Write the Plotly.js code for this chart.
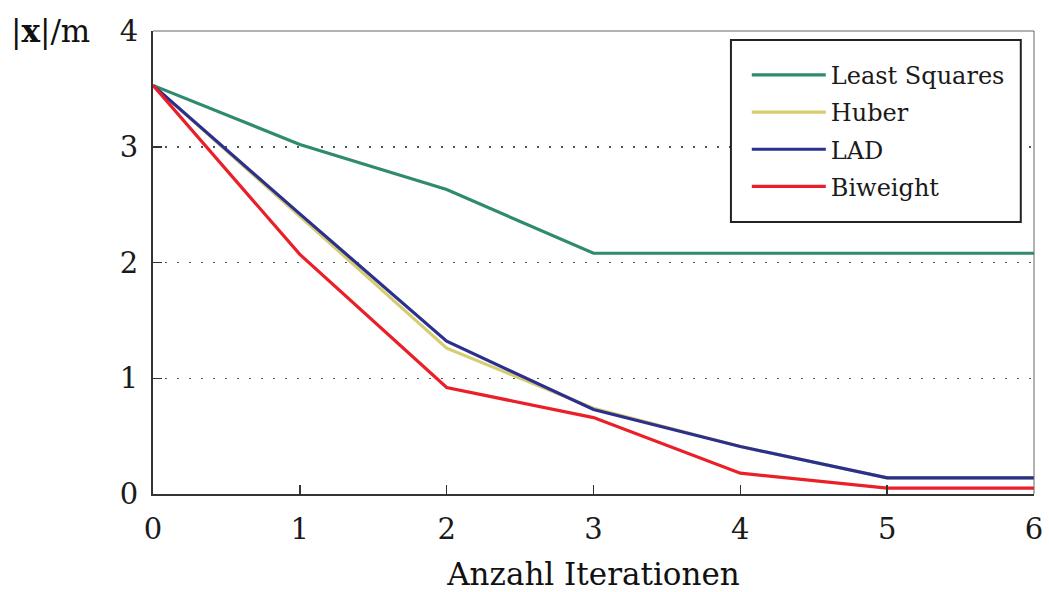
<!DOCTYPE html>
<html>
<head>
<meta charset="utf-8">
<script src="https://cdn.plot.ly/plotly-3.0.1.min.js"></script>
<style>
  html, body { margin: 0; padding: 0; background: #fff; }
  #chart { width: 1049px; height: 592px; }
</style>
</head>
<body>
<div id="chart"></div>
<script>
// Iteration index and |x| (in metres) for each estimator
const iterations = [0, 1, 2, 3, 4, 5, 6];
const leastSquares = [3.53, 3.02, 2.63, 2.08, 2.08, 2.08, 2.08];
const huber       = [3.53, 2.40, 1.26, 0.74, 0.41, 0.14, 0.14];
const lad         = [3.53, 2.42, 1.32, 0.73, 0.41, 0.14, 0.14];
const biweight    = [3.53, 2.07, 0.92, 0.66, 0.18, 0.05, 0.05];

const seriesNames = ['Least Squares', 'Huber', 'LAD', 'Biweight'];
const seriesValues = [leastSquares, huber, lad, biweight];
const seriesColors = ['#2f8a6f', '#d6cc70', '#2b2f8e', '#ea1f28'];

const xTicks = [0, 1, 2, 3, 4, 5, 6];
const yTicks = [0, 1, 2, 3, 4];

const serif = 'DejaVu Serif, Liberation Serif, serif';

const traces = seriesNames.map((name, i) => ({
  x: iterations,
  y: seriesValues[i],
  name: name,
  legendgroup: 'g' + i,
  type: 'scatter',
  mode: 'lines',
  line: { color: seriesColors[i], width: 3.2 }
}));

const layout = {
  width: 1049,
  height: 592,
  margin: { l: 153, r: 15, t: 31, b: 98 },
  paper_bgcolor: '#ffffff',
  plot_bgcolor: '#ffffff',
  font: { family: serif, color: '#1a1a1a', size: 28 },
  showlegend: true,
  legend: {
    x: 0.674, y: 0.953, xanchor: 'left', yanchor: 'top',
    bgcolor: 'rgba(0,0,0,0)',
    borderwidth: 0,
    font: { family: serif, size: 24, color: '#1a1a1a' },
    itemwidth: 74,
    tracegroupgap: 3
  },
  xaxis: {
    range: [0, 6],
    tickvals: xTicks,
    ticktext: xTicks.map(String),
    ticks: 'inside', ticklen: 9, tickwidth: 1.5, tickcolor: '#333',
    showline: true, linecolor: '#333', linewidth: 2,
    showgrid: false, zeroline: false,
    ticklabelstandoff: 8,
    tickfont: { family: serif, size: 29, color: '#1a1a1a' },
    title: { text: 'Anzahl Iterationen', font: { family: serif, size: 31, color: '#111' }, standoff: 22 }
  },
  yaxis: {
    range: [0, 4],
    tickvals: yTicks,
    ticktext: yTicks.map(String),
    ticks: 'inside', ticklen: 9, tickwidth: 1.5, tickcolor: '#333',
    showline: true, linecolor: '#333', linewidth: 2,
    showgrid: true, gridcolor: '#555', gridwidth: 1.5, griddash: '1.5px,10.5px',
    zeroline: false,
    ticklabelstandoff: 7,
    tickfont: { family: serif, size: 29, color: '#1a1a1a' }
  },
  shapes: [
    // thin frame on the top and right edges of the plot area
    { type: 'line', xref: 'paper', yref: 'paper', x0: 0, x1: 1, y0: 1, y1: 1,
      line: { color: '#666', width: 1 } },
    { type: 'line', xref: 'paper', yref: 'paper', x0: 1, x1: 1, y0: 0, y1: 1,
      line: { color: '#666', width: 1 } },
    // legend frame
    { type: 'rect', xref: 'paper', yref: 'paper', x0: 0.656, x1: 0.985, y0: 0.5875, y1: 0.9806,
      fillcolor: '#ffffff', line: { color: '#222', width: 2 }, layer: 'above' }
  ],
  annotations: [
    {
      text: '|<b>x</b>|/m',
      xref: 'paper', yref: 'paper',
      x: -0.163, y: 1.0, xanchor: 'left', yanchor: 'middle',
      showarrow: false,
      font: { family: serif, size: 31, color: '#111' }
    }
  ]
};

Plotly.newPlot('chart', traces, layout, { displayModeBar: false, staticPlot: true });
</script>
</body>
</html>
